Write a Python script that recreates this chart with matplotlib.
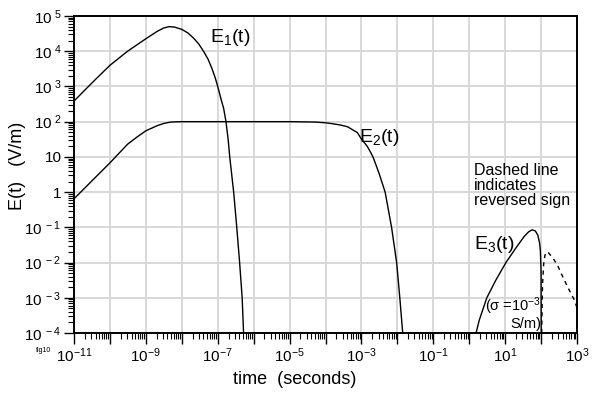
import matplotlib
matplotlib.use("Agg")
import matplotlib.pyplot as plt
from matplotlib.ticker import FixedLocator, LogLocator, NullFormatter, FixedFormatter
import numpy as np

# ---- data (time in s, field in V/m) ----
e1_t = [1.0e-11, 3.16e-11, 1.0e-10, 3.1e-10, 1.0e-9, 2.1e-9, 3.16e-9, 4.47e-9, 6.3e-9,
        1.0e-8, 1.48e-8, 2.14e-8, 3.0e-8, 4.07e-8, 5.4e-8, 6.9e-8, 8.5e-8, 1.0e-7,
        1.26e-7, 1.46e-7, 1.7e-7, 1.95e-7, 2.16e-7, 2.78e-7, 3.39e-7, 4.07e-7,
        4.79e-7, 5.25e-7]
e1_v = [385, 1260, 3980, 1.0e4, 2.26e4, 3.7e4, 4.57e4, 5.0e4, 4.84e4,
        4.17e4, 3.3e4, 2.34e4, 1.58e4, 9.8e3, 5.9e3, 3.24e3, 1.78e3, 1.0e3,
        407, 240, 100, 31.6, 10, 1, 0.1, 0.01,
        1e-3, 1e-4]

e2_t = [1e-11, 3.16e-11, 1e-10, 3.1e-10, 5.6e-10, 1e-9, 2.1e-9, 3.16e-9, 5.0e-9,
        1e-8, 1e-5, 5.0e-5, 1e-4, 1.38e-4, 2.5e-4, 4.07e-4, 7.7e-4, 1e-3,
        1.45e-3, 1.82e-3, 2.14e-3, 3.1e-3, 4.57e-3, 6.9e-3, 9.55e-3, 1.17e-2,
        1.41e-2]
e2_v = [0.645, 2.09, 6.76, 22.9, 36.3, 55, 77.6, 89, 97.7,
        100, 100, 97.7, 93, 89, 81, 72, 49, 32,
        20, 13.2, 9.5, 3.4, 1, 0.1, 0.01, 1e-3,
        1e-4]

e3_t = [1.55, 1.9, 3.09, 5.5, 10.5, 21.4, 33.9, 44.7, 56.2, 69.2, 81.3, 91.2,
        95.5, 100, 101]
e3_v = [1e-4, 2.3e-4, 1e-3, 3.16e-3, 0.01, 0.0288, 0.055, 0.074, 0.085, 0.079,
        0.060, 0.035, 0.022, 6.0e-3, 1e-4]

e3r_t = [104, 110, 118, 128, 140, 160, 190, 234, 300, 363, 450, 550, 700, 851, 1000]
e3r_v = [1e-4, 2.5e-3, 9.0e-3, 0.016, 0.020, 0.019, 0.0155, 0.0117, 7.6e-3, 4.9e-3,
         3.1e-3, 2.0e-3, 1.25e-3, 8.5e-4, 5.2e-4]

x_major = [10.0**k for k in range(-11, 4)]
x_labels = ["$10^{-11}$" if k == -11 else ("$10^{%d}$" % k if k % 2 != 0 else "")
            for k in range(-11, 4)]
y_major = [10.0**k for k in range(-4, 6)]
y_labels = ["$10^{\\ -4}$", "$10^{\\ -3}$", "$10^{\\ -2}$", "$10^{\\ -1}$", "1", "10",
            "$10^{\\ 2}$", "$10^{\\ 3}$", "$10^{\\ 4}$", "$10^{\\ 5}$"]

plt.rcParams["font.family"] = ["Liberation Sans", "DejaVu Sans"]
plt.rcParams["mathtext.fontset"] = "custom"
plt.rcParams["mathtext.rm"] = "Liberation Sans"
plt.rcParams["mathtext.it"] = "Liberation Sans:italic"
plt.rcParams["mathtext.default"] = "regular"

fig = plt.figure(figsize=(6.0, 3.94), dpi=100)
ax = fig.add_axes([74/600, (394-333)/394, (577-74)/600, (333-16)/394])
ax.set_xscale("log")
ax.set_yscale("log")
ax.set_xlim(1e-11, 1e3)
ax.set_ylim(1e-4, 1e5)

lw = 1.0
ax.plot(e1_t, e1_v, color="black", lw=lw, zorder=3)
ax.plot(e2_t, e2_v, color="black", lw=lw, zorder=3)
ax.plot(e3_t, e3_v, color="black", lw=lw, zorder=3)
ax.plot(e3r_t, e3r_v, color="black", lw=lw, ls=(0, (3, 3)), zorder=3)

ax.xaxis.set_major_locator(FixedLocator(x_major))
ax.xaxis.set_major_formatter(FixedFormatter(x_labels))
ax.xaxis.set_minor_locator(LogLocator(base=10, subs=np.arange(2, 10), numticks=100))
ax.xaxis.set_minor_formatter(NullFormatter())
ax.yaxis.set_major_locator(FixedLocator(y_major))
ax.yaxis.set_major_formatter(FixedFormatter(y_labels))
ax.yaxis.set_minor_locator(LogLocator(base=10, subs=np.arange(2, 10), numticks=100))
ax.yaxis.set_minor_formatter(NullFormatter())

ax.tick_params(which="major", direction="out", length=7, width=1.0, labelsize=11, pad=2)
ax.tick_params(which="minor", direction="out", length=4, width=0.8)
ax.tick_params(axis="x", which="major", length=8)

ax.grid(True, which="major", color="#d8d8d8", lw=1.4, zorder=0)
for s in ax.spines.values():
    s.set_linewidth(1.4)

ax.set_xlabel("time  (seconds)", fontsize=13, labelpad=5)
ax.xaxis.set_label_coords((295 - 74) / 503, -0.12)
ax.set_ylabel("E(t)   (V/m)", fontsize=13, labelpad=4)
ax.yaxis.set_label_coords(-0.095, (333 - 166) / 317)

ax.text(6.2e-8, 2.5e4, "E$_1$(t)", fontsize=14, ha="left", va="center")
ax.text(8.3e-4, 36, "E$_2$(t)", fontsize=14, ha="left", va="center")
ax.text(1.35, 0.032, "E$_3$(t)", fontsize=14, ha="left", va="center")
ax.text(1.35, 1.5, "Dashed line\nindicates\nreversed sign", fontsize=11.5,
        ha="left", va="center", linespacing=1.0)
ax.text(99.5, 3.6e-4, "($\\sigma$ =10$^{-3}$\nS/m)", fontsize=10.5,
        ha="right", va="center", multialignment="right", linespacing=1.0)

fig.text(36/600, 1 - 351/394, "fig10", fontsize=5, ha="left", va="center")

fig.savefig("out.png", dpi=100)
